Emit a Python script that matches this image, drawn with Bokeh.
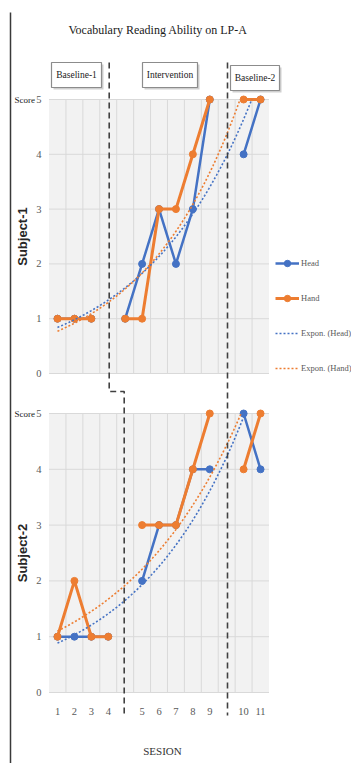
import math
import numpy as np
from bokeh.plotting import figure
from bokeh.models import Range1d, Legend, LegendItem
from bokeh.core.properties import value
from bokeh.embed import file_html
from bokeh.resources import INLINE

# ---------------- data ----------------
nan = float("nan")
slots = list(range(1, 14))                      # category positions (Excel style)
session_labels = ["1", "2", "3", "4", "", "5", "6", "7", "8", "9", "", "10", "11"]
s1_head = [1, 1, 1, nan, 1, 2, 3, 2, 3, 5, nan, 4, 5]
s1_hand = [1, 1, 1, nan, 1, 1, 3, 3, 4, 5, nan, 5, 5]
s2_head = [1, 1, 1, 1, nan, 2, 3, 3, 4, 4, nan, 5, 4]
s2_hand = [1, 2, 1, 1, nan, 3, 3, 3, 4, 5, nan, 4, 5]
score_ticks = [0, 1, 2, 3, 4, 5]
phases = ["Baseline-1", "Intervention", "Baseline-2"]
subjects = ["Subject-1", "Subject-2"]
series_names = ["Head", "Hand", "Expon. (Head)", "Expon. (Hand)"]
title_text = "Vocabulary Reading Ability on LP-A"
x_title = "SESION"
score_label = "Score"

# ---------------- geometry / style ----------------
W, H = 351, 763
SLOT = 16.92
X_SLOT1 = 57.0
P1_ZERO, P1_UNIT = 373.0, 54.8
P2_ZERO, P2_UNIT = 692.0, 55.8

BLUE = "#4472C4"
ORANGE = "#ED7D31"
GRID = "#D9D9D9"
PANEL = "#F2F2F2"
TICK = "#595959"
SERIF = value("Liberation Serif")
SANS = value("Liberation Sans")


def px(xp):
    return 1 + (xp - X_SLOT1) / SLOT


def py1(yp):
    return (P1_ZERO - yp) / P1_UNIT


def py2(yp):
    return (P2_ZERO - yp) / P2_UNIT


p = figure(width=W, height=H, output_backend="svg", toolbar_location=None,
           x_axis_location=None, y_axis_location=None, title=None,
           x_range=Range1d(px(0), px(W)), y_range=Range1d(py2(H), py2(0)),
           min_border=0)
p.extra_y_ranges = {"s1": Range1d(py1(H), py1(0))}
p.outline_line_color = None
p.background_fill_color = "white"
p.border_fill_color = "white"
p.grid.visible = False


def txt(x, y, t, size, color="#000000", font=SERIF, align="center", baseline="middle",
        rng="default", angle=0.0, style="normal"):
    p.text(x=x, y=y, text=t, text_font=font, text_font_size=size, text_color=color,
           text_align=align, text_baseline=baseline, angle=angle,
           text_font_style=style, y_range_name=rng)


# left border line
p.segment(x0=[px(10)], y0=[py2(12)], x1=[px(10)], y1=[py2(H)],
          line_color="#3A3A3A", line_width=1.5)

# title
txt([px(157.5)], [py2(29)], [title_text], "12px", color="#1A1A1A")

bounds = [s + 0.5 for s in slots[:-1]]
left_edge, right_edge = slots[0] - 0.5, slots[-1] + 0.5
ymax = score_ticks[-1]

panels = [("s1", s1_head, s1_hand, subjects[0]),
          ("default", s2_head, s2_hand, subjects[1])]

legend_renderers = None
for rng, head, hand, subj in panels:
    p.quad(left=[left_edge], right=[right_edge], bottom=[0], top=[ymax],
           fill_color=PANEL, line_color=None, y_range_name=rng)
    p.segment(x0=bounds, y0=[0] * len(bounds), x1=bounds, y1=[ymax] * len(bounds),
              line_color=GRID, line_width=1, y_range_name=rng)
    p.segment(x0=[left_edge] * len(score_ticks), y0=score_ticks,
              x1=[right_edge] * len(score_ticks), y1=score_ticks,
              line_color=GRID, line_width=1, y_range_name=rng)
    # y tick labels
    txt([px(41)] * len(score_ticks), score_ticks, [str(t) for t in score_ticks],
        "10.5px", color=TICK, align="right", rng=rng)
    txt([px(14)], [ymax], [score_label], "9px", color="#1A1A1A", align="left", rng=rng)
    # subject label
    txt([px(22)], [ymax / 2], [subj], "13px", color="#262626", font=SANS,
        rng=rng, angle=math.pi / 2, style="bold")

    rs = []
    for vals, col, lw in ((head, BLUE, 2.5), (hand, ORANGE, 3)):
        ln = p.line(slots, vals, line_color=col, line_width=lw, y_range_name=rng)
        sc = p.scatter([s for s, v in zip(slots, vals) if not math.isnan(v)],
                       [v for v in vals if not math.isnan(v)],
                       marker="circle", size=7, fill_color=col, line_color=col,
                       y_range_name=rng)
        rs.append((ln, sc))
    trs = []
    for vals, col in ((head, BLUE), (hand, ORANGE)):
        x = np.array(slots, dtype=float)
        y = np.array(vals, dtype=float)
        m = np.isfinite(y)
        b, lna = np.polyfit(x[m], np.log(y[m]), 1)
        x_end = min(float(slots[-1]), (math.log(ymax) - lna) / b)
        xs = np.linspace(float(slots[0]), x_end, 150)
        tr = p.line(xs, np.exp(lna + b * xs), line_color=col, line_width=1.6,
                    line_dash="2 2", y_range_name=rng)
        trs.append(tr)
    if legend_renderers is None:
        legend_renderers = (rs, trs)

# x tick labels and axis title
txt(slots, [py2(711)] * len(slots), session_labels, "10.5px", color=TICK)
txt([px(162)], [py2(750)], [x_title], "11px", color="#333333")

# phase boxes (top)
boxes = [(51, 101, 62, 87), (142, 197, 62, 87), (230, 279, 65, 90)]
for (x0, x1, y0, y1), lab in zip(boxes, phases):
    p.quad(left=[px(x0 + 2)], right=[px(x1 + 2)], top=[py2(y0 + 2)], bottom=[py2(y1 + 2)],
           fill_color="#CFCFCF", line_color=None)
    p.quad(left=[px(x0)], right=[px(x1)], top=[py2(y0)], bottom=[py2(y1)],
           fill_color="white", line_color="#8C8C8C", line_width=1.2)
    txt([px((x0 + x1) / 2)], [py2((y0 + y1) / 2)], [lab], "9.5px", color="#1A1A1A")

# phase change dashed lines
p.line([px(108.7), px(108.7), px(123.7), px(123.7)],
       [py2(62), py2(391), py2(391), py2(715)],
       line_color="#404040", line_width=1.6, line_dash="6 4")
p.line([px(227), px(227)], [py2(62), py2(715)],
       line_color="#404040", line_width=1.6, line_dash="6 4")

(rs, trs) = legend_renderers
legend = Legend(items=[
    LegendItem(label=series_names[0], renderers=list(rs[0])),
    LegendItem(label=series_names[1], renderers=list(rs[1])),
    LegendItem(label=series_names[2], renderers=[trs[0]]),
    LegendItem(label=series_names[3], renderers=[trs[1]]),
], location=(275, H - 376))
legend.background_fill_alpha = 0
legend.border_line_color = None
legend.label_text_font = "Liberation Serif"
legend.label_text_font_size = "8.5px"
legend.label_text_color = TICK
legend.glyph_width = 24
legend.glyph_height = 16
legend.label_height = 16
legend.spacing = 19
legend.padding = 0
legend.margin = 0
legend.label_standoff = 2
p.add_layout(legend)

open("out.html", "w").write(file_html(p, INLINE))
